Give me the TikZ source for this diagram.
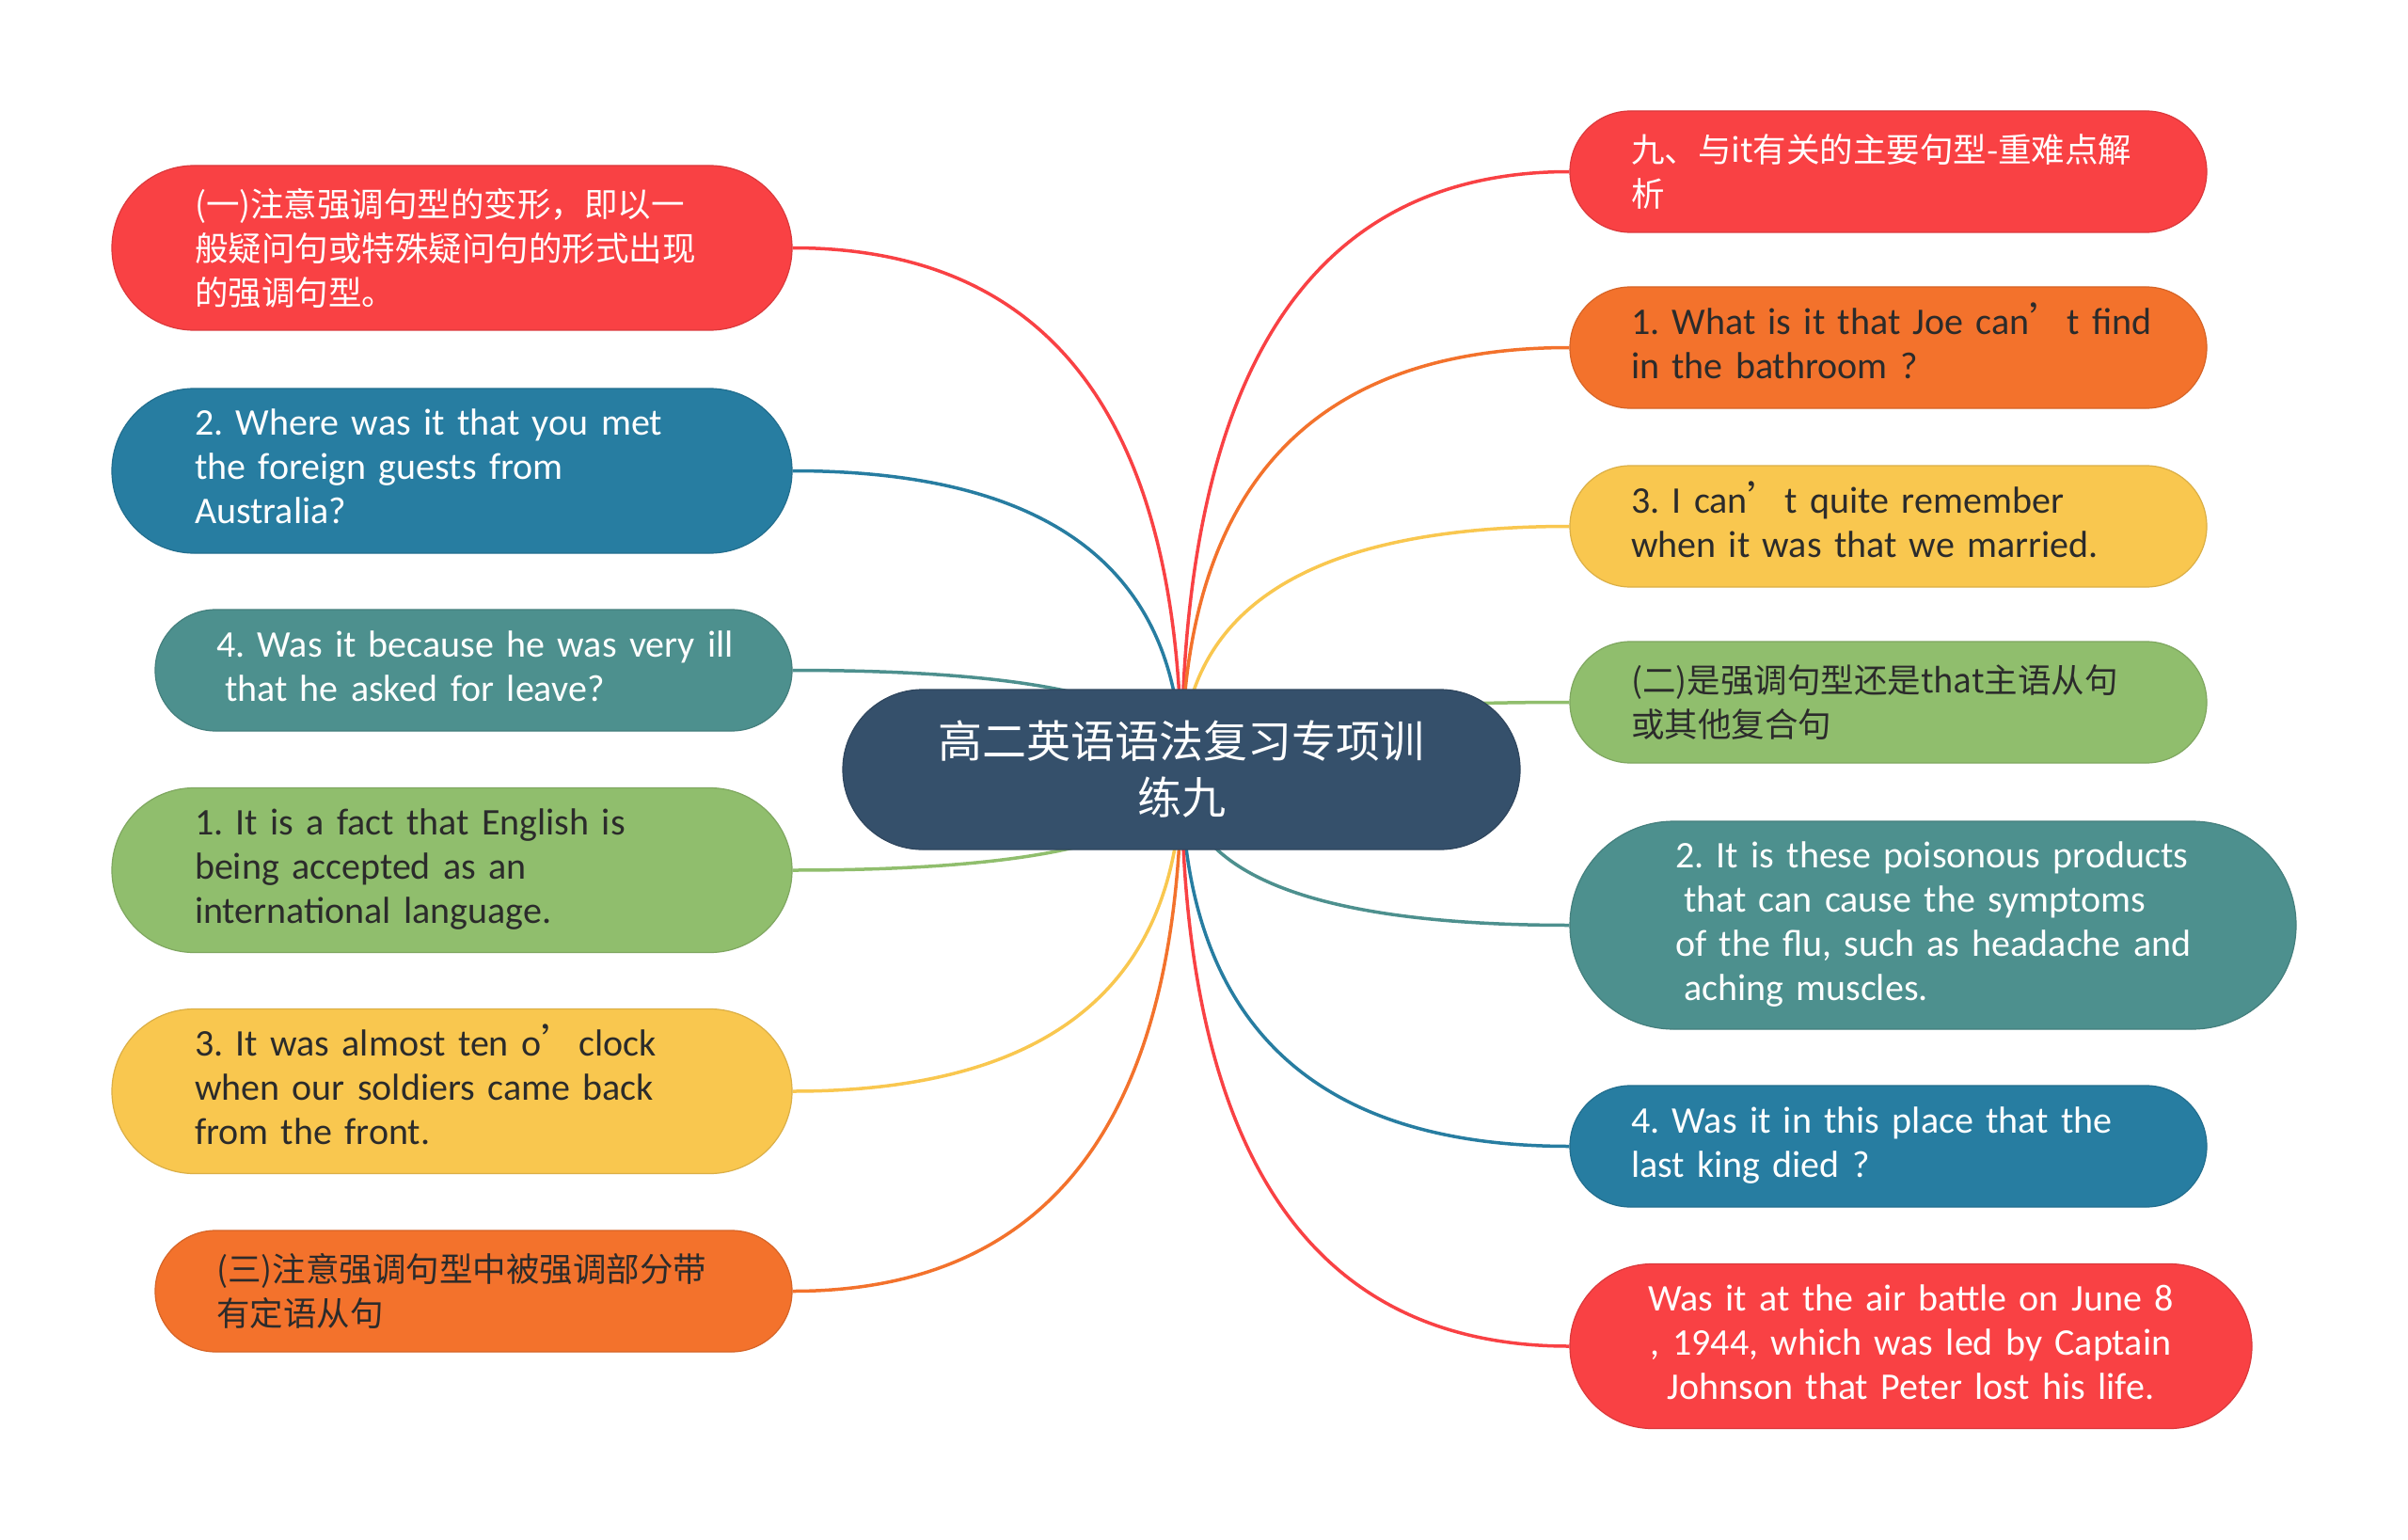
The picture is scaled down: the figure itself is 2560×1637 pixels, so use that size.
\documentclass[tikz,border=0pt]{standalone}
\usepackage{fontspec}
\setmainfont{Carlito}
\newfontfamily\cjk{Noto Sans CJK SC}
\usetikzlibrary{calc,backgrounds}
\frenchspacing
\newcommand\enfont{\fontsize{40}{47}\selectfont}
\definecolor{cred}{HTML}{F94144}
\definecolor{corange}{HTML}{F3722C}
\definecolor{cyellow}{HTML}{F9C74F}
\definecolor{cgreen}{HTML}{90BE6D}
\definecolor{cteal}{HTML}{4D908E}
\definecolor{cblue}{HTML}{277DA1}
\definecolor{ccenter}{HTML}{35506B}
\definecolor{ink}{HTML}{2B2B2B}
\tikzset{
  bub/.style={rectangle, inner sep=0pt, align=left, draw=#1!88!black, line width=1.2pt, fill=#1},
  en/.style={font=\enfont},
  zh/.style={font=\cjk\fontsize{35.5}{47}\selectfont},
  wide/.style={minimum width=723pt, minimum height=175pt, rounded corners=87.4pt, text width=547pt},
  narrow/.style={minimum width=677pt, minimum height=129pt, rounded corners=64.4pt, text width=547pt},
  edge/.style={line width=3.5pt},
}
\newcommand\branch[3]{%
  \coordinate (k) at (#1.#2 -| c.center);
  \draw[edge, #3] (#1.#2) .. controls ($(#1.#2)!0.6667!(k)$) and ($(c.center)!0.6667!(k)$) .. (c.center);
}
\begin{document}
\begin{tikzpicture}[x=1pt, y=-1pt]
\useasboundingbox (0,0) rectangle (2560,1637);
% centre
\node[bub=ccenter, text=white, font=\cjk\fontsize{47}{60}\selectfont, align=center,
  minimum width=720pt, minimum height=170pt, rounded corners=84.9pt] (c) at (1256,818)
  {高二英语语法复习专项训\\练九};
% left
\node[bub=cred, wide, text=white, zh] (l1) at (480.5,263.5)
  {(一)注意强调句型的变形，即以一\\般疑问句或特殊疑问句的形式出现\\的强调句型。};
\node[bub=cblue, wide, text=white, en] (l2) at (480.5,500.5)
  {\begin{tabular}{@{}l@{}}2. Where was it that you met\\the foreign guests from\\Australia?\end{tabular}};
\node[bub=cteal, narrow, text=white, en] (l3) at (503.5,712.5)
  {\begin{tabular}{@{}l@{}}4. Was it because he was very ill\\\hspace*{9pt}that he asked for leave?\end{tabular}};
\node[bub=cgreen, wide, text=ink, en] (l4) at (480.5,925)
  {\begin{tabular}{@{}l@{}}1. It is a fact that English is\\being accepted as an\\international language.\end{tabular}};
\node[bub=cyellow, wide, text=ink, en] (l5) at (480.5,1160)
  {\begin{tabular}{@{}l@{}}3. It was almost ten o{\cjk ’}clock\\when our soldiers came back\\from the front.\end{tabular}};
\node[bub=corange, narrow, text=ink, zh] (l6) at (503.5,1372.5)
  {(三)注意强调句型中被强调部分带\\有定语从句};
% right
\node[bub=cred, narrow, text=white, zh] (r1) at (2007.5,182.5)
  {九、与it有关的主要句型-重难点解\\析};
\node[bub=corange, narrow, text=ink, en] (r2) at (2007.5,369.5)
  {\begin{tabular}{@{}l@{}}1. What is it that Joe can{\cjk ’}t find\\in the bathroom ?\end{tabular}};
\node[bub=cyellow, narrow, text=ink, en] (r3) at (2007.5,559.5)
  {\begin{tabular}{@{}l@{}}3. I can{\cjk ’}t quite remember\\when it was that we married.\end{tabular}};
\node[bub=cgreen, narrow, text=ink, zh] (r4) at (2007.5,746.5)
  {(二)是强调句型还是that主语从句\\或其他复合句};
\node[bub=cteal, text=white, en, minimum width=772pt, minimum height=221pt, rounded corners=110.4pt, text width=548pt] (r5) at (2055,983.5)
  {\begin{tabular}{@{}l@{}}2. It is these poisonous products\\\hspace*{9pt}that can cause the symptoms\\of the flu, such as headache and\\\hspace*{9pt}aching muscles.\end{tabular}};
\node[bub=cblue, narrow, text=white, en] (r6) at (2007.5,1218.5)
  {\begin{tabular}{@{}l@{}}4. Was it in this place that the\\last king died ?\end{tabular}};
\node[bub=cred, text=white, en, align=center, minimum width=725pt, minimum height=175pt, rounded corners=87.4pt, text width=640pt] (r7) at (2031.5,1431)
  {\begin{tabular}{@{}c@{}}Was it at the air battle on June 8\\, 1944, which was led by Captain\\Johnson that Peter lost his life.\end{tabular}};
% connectors
\begin{scope}[on background layer]
  \fill[white] (0,0) rectangle (2560,1637);
  \branch{l1}{east}{cred}
  \branch{l2}{east}{cblue}
  \branch{l3}{east}{cteal}
  \branch{l4}{east}{cgreen}
  \branch{l5}{east}{cyellow}
  \branch{l6}{east}{corange}
  \branch{r1}{west}{cred}
  \branch{r2}{west}{corange}
  \branch{r3}{west}{cyellow}
  \branch{r4}{west}{cgreen}
  \branch{r5}{west}{cteal}
  \branch{r6}{west}{cblue}
  \branch{r7}{west}{cred}
\end{scope}
\end{tikzpicture}
\end{document}
